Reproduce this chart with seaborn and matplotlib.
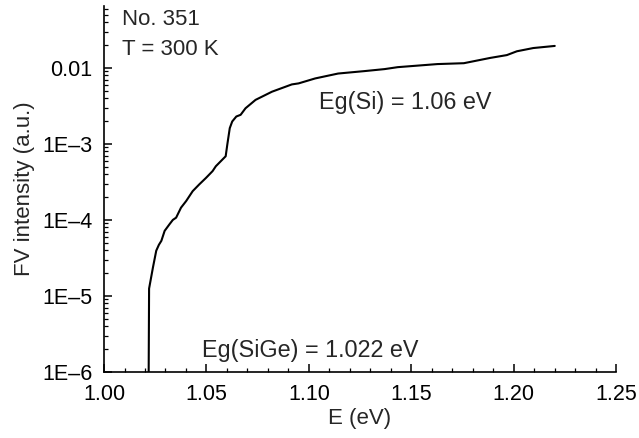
import matplotlib
matplotlib.use("Agg")
import matplotlib.pyplot as plt
import matplotlib.ticker as mticker
import numpy as np
import pandas as pd
import seaborn as sns

energy_ev = [1.0218, 1.0220, 1.0239, 1.0255, 1.0268, 1.0280, 1.0296, 1.0320, 1.0336,
             1.0352, 1.0376, 1.0401, 1.0433, 1.0465, 1.0498, 1.0530, 1.0546, 1.0594,
             1.0602, 1.0614, 1.0626, 1.0646, 1.0667, 1.0691, 1.0740, 1.0820, 1.0917,
             1.0950, 1.1031, 1.1143, 1.1273, 1.1370, 1.1434, 1.1628, 1.1757, 1.1886,
             1.1967, 1.2016, 1.2096, 1.2201]
fv_intensity = [1.0e-6, 1.25e-5, 2.38e-5, 3.94e-5, 4.71e-5, 5.31e-5, 7.18e-5, 8.79e-5, 1.0e-4,
                1.07e-4, 1.45e-4, 1.77e-4, 2.39e-4, 2.93e-4, 3.57e-4, 4.38e-4, 5.08e-4, 6.87e-4,
                9.8e-4, 1.61e-3, 1.97e-3, 2.29e-3, 2.41e-3, 2.94e-3, 3.79e-3, 4.85e-3, 6.05e-3,
                6.24e-3, 7.25e-3, 8.41e-3, 9.06e-3, 9.62e-3, 1.02e-2, 1.12e-2, 1.15e-2, 1.35e-2,
                1.47e-2, 1.65e-2, 1.82e-2, 1.94e-2]

x_ticks = [1.00, 1.05, 1.10, 1.15, 1.20, 1.25]
x_tick_labels = ["1.00", "1.05", "1.10", "1.15", "1.20", "1.25"]
y_ticks = [1e-6, 1e-5, 1e-4, 1e-3, 1e-2]
y_tick_labels = ["1E\u20136", "1E\u20135", "1E\u20134", "1E\u20133", "0.01"]

sns.set_style("ticks")
plt.rcParams["font.family"] = ["Liberation Sans", "DejaVu Sans"]
plt.rcParams["font.size"] = 16

df = pd.DataFrame({"E": energy_ev, "FV": fv_intensity})

fig = plt.figure(figsize=(6.39, 4.38), dpi=100)
ax = fig.add_axes([0.1628, 0.1507, 0.964 - 0.1628, 0.9863 - 0.1507])
sns.lineplot(data=df, x="E", y="FV", ax=ax, color="black", linewidth=1.5, sort=False)

ax.set_yscale("log")
ax.set_xlim(1.00, 1.25)
ax.set_ylim(1e-6, 0.065)

ax.set_xticks(x_ticks)
ax.set_xticklabels(x_tick_labels, fontsize=15.5)
ax.xaxis.set_minor_locator(mticker.MultipleLocator(0.01))
ax.set_yticks(y_ticks)
ax.set_yticklabels(y_tick_labels, fontsize=15.5)
ax.yaxis.set_minor_locator(mticker.LogLocator(base=10, subs=np.arange(2, 10)))
ax.yaxis.set_minor_formatter(mticker.NullFormatter())

ax.tick_params(which="major", direction="in", length=6, width=1.1, colors="black", pad=8.5)
ax.tick_params(which="minor", direction="in", length=3, width=0.9, colors="black")

for s in ["top", "right"]:
    ax.spines[s].set_visible(False)
for s in ["left", "bottom"]:
    ax.spines[s].set_linewidth(1.2)
    ax.spines[s].set_color("black")

ax.set_xlabel("E (eV)", fontsize=16, labelpad=2)
ax.set_ylabel("FV intensity (a.u.)", fontsize=16, labelpad=5)

ax.text(0.036, 0.948, "No. 351", transform=ax.transAxes, fontsize=16, va="baseline", ha="left")
ax.text(0.036, 0.866, "T = 300 K", transform=ax.transAxes, fontsize=16, va="baseline", ha="left")
ax.text(1.1050, 2.88e-3, "Eg(Si) = 1.06 eV", fontsize=16.8, ha="left", va="baseline")
ax.text(1.0478, 1.556e-6, "Eg(SiGe) = 1.022 eV", fontsize=16.8, ha="left", va="baseline")

fig.savefig("out.png", dpi=100)
